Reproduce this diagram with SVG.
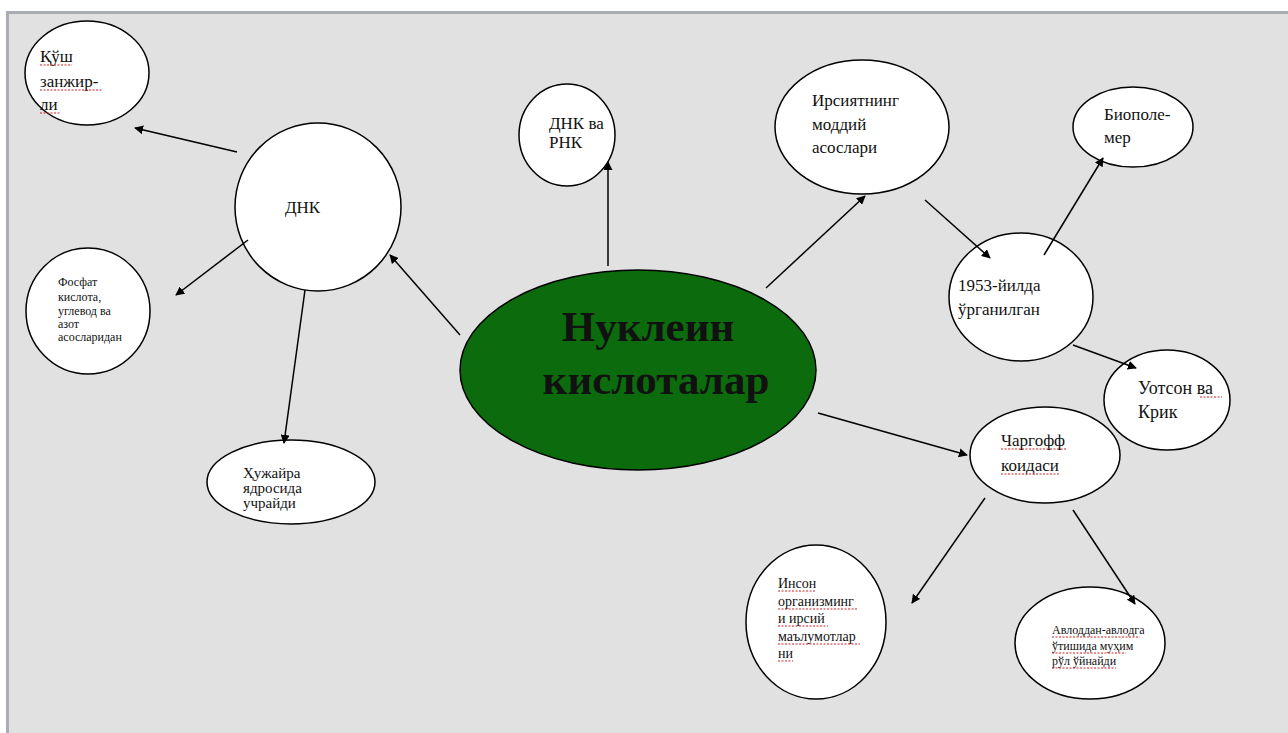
<svg xmlns="http://www.w3.org/2000/svg" width="1288" height="733" viewBox="0 0 1288 733">
<defs>
<marker id="ah" viewBox="0 0 10 10" refX="9" refY="5" markerWidth="9" markerHeight="9" markerUnits="userSpaceOnUse" orient="auto">
<path d="M0,0 L10,5 L0,10 z" fill="#000"/>
</marker>
<style>
.n{fill:#fff;stroke:#000;stroke-width:1.5}
.t{font-family:"Liberation Serif","Times New Roman",serif;fill:#111}
.c line{stroke:#000;stroke-width:1.5;marker-end:url(#ah)}
.u{stroke:#d02020;stroke-width:1;stroke-dasharray:2 1.5;fill:none}
</style>
</defs>
<rect x="0" y="0" width="1288" height="733" fill="#fff"/>
<rect x="6" y="11" width="1282" height="722" fill="#e1e1e1"/>
<rect x="6" y="11" width="1282" height="3" fill="#a9adb1"/>
<rect x="6" y="11" width="3" height="722" fill="#a9adb1"/>

<g id="n-kush">
<ellipse class="n" cx="87" cy="73" rx="62" ry="52"/>
<text class="t" font-size="17"><tspan x="40" y="62">Қўш</tspan><tspan x="40" y="87">занжир-</tspan><tspan x="40" y="110">ли</tspan></text>
<path class="u" d="M40,65 h32 M40,90 h62 M40,113 h20"/>
</g>

<g id="n-dnk">
<ellipse class="n" cx="318" cy="207" rx="83" ry="84"/>
<text class="t" font-size="17" x="285" y="213">ДНК</text>
</g>

<g id="n-fosfat">
<ellipse class="n" cx="88" cy="311" rx="62" ry="63"/>
<text class="t" font-size="12"><tspan x="58" y="286">Фосфат</tspan><tspan x="58" y="301">кислота,</tspan><tspan x="58" y="315">углевод ва</tspan><tspan x="58" y="328">азот</tspan><tspan x="58" y="341">асосларидан</tspan></text>
</g>

<g id="n-hujayra">
<ellipse class="n" cx="291" cy="482" rx="84" ry="42"/>
<text class="t" font-size="15"><tspan x="243" y="478">Ҳужайра</tspan><tspan x="243" y="493">ядросида</tspan><tspan x="243" y="508">учрайди</tspan></text>
</g>

<g id="n-dnkrnk">
<ellipse class="n" cx="567" cy="135" rx="48" ry="51"/>
<text class="t" font-size="17"><tspan x="549" y="129">ДНК ва</tspan><tspan x="549" y="148">РНК</tspan></text>
</g>

<g id="n-nuklein">
<ellipse cx="638" cy="370" rx="178" ry="100" fill="#0c6b0c" stroke="#000" stroke-width="1.5"/>
<text class="t" font-size="43" font-weight="bold" text-anchor="middle" fill="#000"><tspan x="648" y="341">Нуклеин</tspan><tspan x="656" y="394">кислоталар</tspan></text>
</g>

<g id="n-irsiyat">
<ellipse class="n" cx="862" cy="127" rx="87" ry="67"/>
<text class="t" font-size="17"><tspan x="812" y="106">Ирсиятнинг</tspan><tspan x="812" y="130">моддий</tspan><tspan x="812" y="153">асослари</tspan></text>
</g>

<g id="n-biopolemer">
<ellipse class="n" cx="1133" cy="127" rx="60" ry="40"/>
<text class="t" font-size="17"><tspan x="1104" y="120">Биополе-</tspan><tspan x="1104" y="143">мер</tspan></text>
</g>

<g id="n-1953">
<ellipse class="n" cx="1021" cy="297" rx="72" ry="64"/>
<text class="t" font-size="17"><tspan x="958" y="291">1953-йилда</tspan><tspan x="958" y="315">ўрганилган</tspan></text>
</g>

<g id="n-uotson">
<ellipse class="n" cx="1167" cy="400" rx="63" ry="50"/>
<text class="t" font-size="18"><tspan x="1138" y="394">Уотсон ва</tspan><tspan x="1138" y="418">Крик</tspan></text>
<path class="u" d="M1200,397 h22"/>
</g>

<g id="n-chargoff">
<ellipse class="n" cx="1045" cy="455" rx="75" ry="48"/>
<text class="t" font-size="17"><tspan x="1001" y="446">Чаргофф</tspan><tspan x="1001" y="471">коидаси</tspan></text>
<path class="u" d="M1001,449 h66 M1001,474 h58"/>
</g>

<g id="n-inson">
<ellipse class="n" cx="816" cy="622" rx="70" ry="77"/>
<text class="t" font-size="14"><tspan x="778" y="588">Инсон</tspan><tspan x="778" y="606">организминг</tspan><tspan x="778" y="623">и ирсий</tspan><tspan x="778" y="641">маълумотлар</tspan><tspan x="778" y="658">ни</tspan></text>
<path class="u" d="M778,591 h38 M778,609 h80 M778,626 h50 M778,644 h82 M778,661 h15"/>
</g>

<g id="n-avlod">
<ellipse class="n" cx="1090" cy="643" rx="75" ry="56"/>
<text class="t" font-size="12"><tspan x="1052" y="634">Авлоддан-авлодга</tspan><tspan x="1052" y="650">ўтишида муҳим</tspan><tspan x="1052" y="665">рўл ўйнайди</tspan></text>
<path class="u" d="M1052,637 h88 M1052,653 h74 M1052,668 h64"/>
</g>

<g class="c" id="connectors">
<line x1="237" y1="152" x2="135" y2="128"/>
<line x1="248" y1="240" x2="176" y2="295"/>
<line x1="305" y1="290" x2="284" y2="443"/>
<line x1="460" y1="335" x2="390" y2="255"/>
<line x1="608" y1="266" x2="608" y2="162"/>
<line x1="766" y1="288" x2="865" y2="196"/>
<line x1="925" y1="200" x2="990" y2="258"/>
<line x1="1044" y1="255" x2="1103" y2="158"/>
<line x1="1073" y1="345" x2="1136" y2="368"/>
<line x1="818" y1="413" x2="967" y2="455"/>
<line x1="985" y1="498" x2="912" y2="603"/>
<line x1="1073" y1="510" x2="1135" y2="604"/>
</g>
</svg>
